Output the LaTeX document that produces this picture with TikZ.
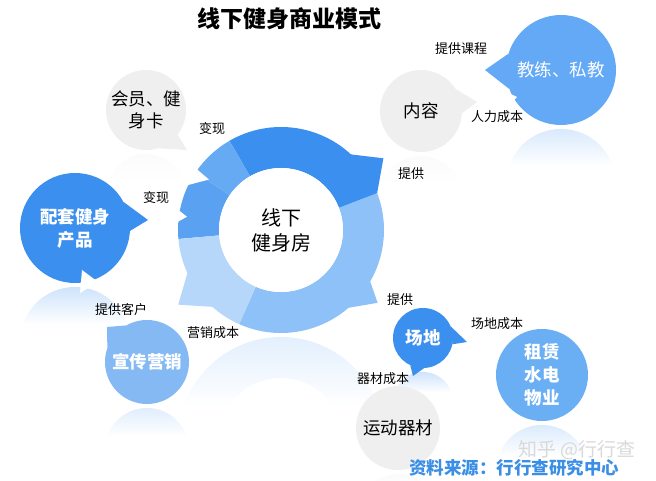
\documentclass[tikz,border=0pt]{standalone}
\usepackage{fontspec}
\setmainfont{Noto Sans CJK SC}
\usetikzlibrary{fadings}
\definecolor{darkblue}{HTML}{3B8FEF}
\definecolor{midblue}{HTML}{5AA1F1}
\definecolor{topblue}{HTML}{66AAF4}
\definecolor{lightblue}{HTML}{8DC1F7}
\definecolor{paleblue}{HTML}{B7D7FA}
\definecolor{softgrey}{HTML}{EFEFEF}
\definecolor{promoblue}{HTML}{84B9F4}
\definecolor{coachblue}{HTML}{64A9F5}
\definecolor{rentblue}{HTML}{6AAEF4}
\definecolor{sourceblue}{HTML}{3A8EE6}
\pgfdeclareverticalshading{reflshade}{100bp}{color(0bp)=(transparent!100); color(58bp)=(transparent!100); color(100bp)=(transparent!38)}
\pgfdeclarefading{reflect}{\pgfuseshading{reflshade}}
\begin{document}
\begin{tikzpicture}[x=1pt, y=1pt,
greynode/.style={circle, fill=softgrey, inner sep=0pt, align=center, text=black, font=\fontsize{17.5}{22}\selectfont},
bluenode/.style={circle, inner sep=0pt, align=center, text=white, font=\bfseries\fontsize{17.5}{23}\selectfont},
tag/.style={inner sep=1pt, font=\fontsize{13}{15}\selectfont},
mirror/.style={path fading=reflect},
]
\useasboundingbox (0,0) rectangle (656,481);
%reflections
\fill[lightblue, mirror, even odd rule] (281,41) circle[radius=103] (281,41) circle[radius=62];
\fill[softgrey, mirror] (146,287) circle[radius=40];
\fill[darkblue, mirror] (75,139) circle[radius=55];
\fill[promoblue, mirror] (147,31) circle[radius=42];
\fill[softgrey, mirror] (421,284) circle[radius=41];
\fill[coachblue, mirror] (561,297) circle[radius=55];
\fill[darkblue, mirror] (423,79) circle[radius=30];
\fill[rentblue, mirror] (542,10) circle[radius=46];
\fill[softgrey, mirror] (398,-35) circle[radius=42];
%ring
\begin{scope}[shift={(281,251)}]
\foreach \a/\b/\c in {-114/21/lightblue, 21/120/darkblue, 120/146/topblue, 146/185/midblue, 185/246/paleblue}
  \fill[\c] (\a:62) -- (\a:103) arc[start angle=\a, end angle=\b, radius=103] -- (\b:62) arc[start angle=\b, end angle=\a, radius=62] -- cycle;
\fill[darkblue] (21:103) -- (35:125) -- (48:102) -- cycle;
\fill[lightblue] (-30:103) -- (-37:121) -- (-50:102) -- cycle;
\fill[paleblue] (204:102) -- (216:127) -- (229:102) -- cycle;
\fill[white] (144:108) -- (145:88) -- (155:105) -- cycle;
\fill[white] (168:108) -- (172:95) -- (177:108) -- cycle;
\end{scope}
%nodes
\node[circle, fill=white, minimum size=124pt, inner sep=0pt, align=center, font=\fontsize{20}{25}\selectfont] (hub) at (281,251) {线下\\健身房};
\node[greynode, minimum size=80pt] (member) at (146,371) {会员、健\\身卡};
\node[bluenode, fill=darkblue, minimum size=110pt] (kit) at (75,253) {配套健身\\产品};
\node[bluenode, fill=promoblue, minimum size=84pt] (promo) at (147,119) {宣传营销};
\node[greynode, minimum size=82pt] (content) at (421,370) {内容};
\node[bluenode, fill=coachblue, minimum size=110pt, font=\fontsize{17.5}{22}\selectfont] (coach) at (561,411) {教练、私教};
\node[bluenode, fill=darkblue, minimum size=60pt] (venue) at (423,143) {场地};
\node[bluenode, fill=rentblue, minimum size=92pt] (rent) at (542,106) {租赁\\水电\\物业};
\node[greynode, minimum size=84pt] (gear) at (398,53) {运动器材};
%pointers
\coordinate (pmember) at (187,331);
\coordinate (pkit) at (148,261);
\coordinate (ppromo) at (107,154);
\coordinate (pcontent) at (477,379);
\coordinate (pcoach) at (485,411);
\coordinate (pvenue) at (467,139);
\coordinate (pvenue2) at (413,105);
\fill[softgrey] (member.-38) -- (pmember) -- (member.-72) -- cycle;
\fill[darkblue] (kit.28) -- (pkit) -- (kit.-3) -- cycle;
\fill[white] (82,211) -- (80,188) -- (98,199) -- cycle;
\fill[promoblue] (promo.120) -- (ppromo) -- (promo.160) -- cycle;
\fill[softgrey] (content.32) -- (pcontent) -- (content.-3) -- cycle;
\fill[coachblue] (coach.163) -- (pcoach) -- (coach.200) -- cycle;
\fill[white] (498,393) -- (517,384) -- (505,371) -- cycle;
\fill[darkblue] (venue.22) -- (pvenue) -- (venue.-12) -- cycle;
\fill[darkblue] (venue.245) -- (pvenue2) -- (venue.272) -- cycle;
%labels
\node[tag] (cash1) at (212,352) {变现};
\node[tag] (cash2) at (156,283) {变现};
\node[tag] (give1) at (411,307) {提供};
\node[tag] (course) at (461,432) {提供课程};
\node[tag] (labour) at (497,364) {人力成本};
\node[tag] (give2) at (400,181) {提供};
\node[tag] (market) at (213,148) {营销成本};
\node[tag] (client) at (121,171) {提供客户};
\node[tag] (site) at (497,157) {场地成本};
\node[tag] (kitcost) at (383,102) {器材成本};
%title and source
\node[font=\bfseries\fontsize{23}{28}\selectfont] (title) at (289,462) {线下健身商业模式};
\node[text=black!15, font=\fontsize{19}{22}\selectfont] (mark) at (577,31) {知乎 @行行查};
\node[text=sourceblue, font=\bfseries\fontsize{17.5}{21}\selectfont] (source) at (514,13) {资料来源：行行查研究中心};
\end{tikzpicture}
\end{document}
